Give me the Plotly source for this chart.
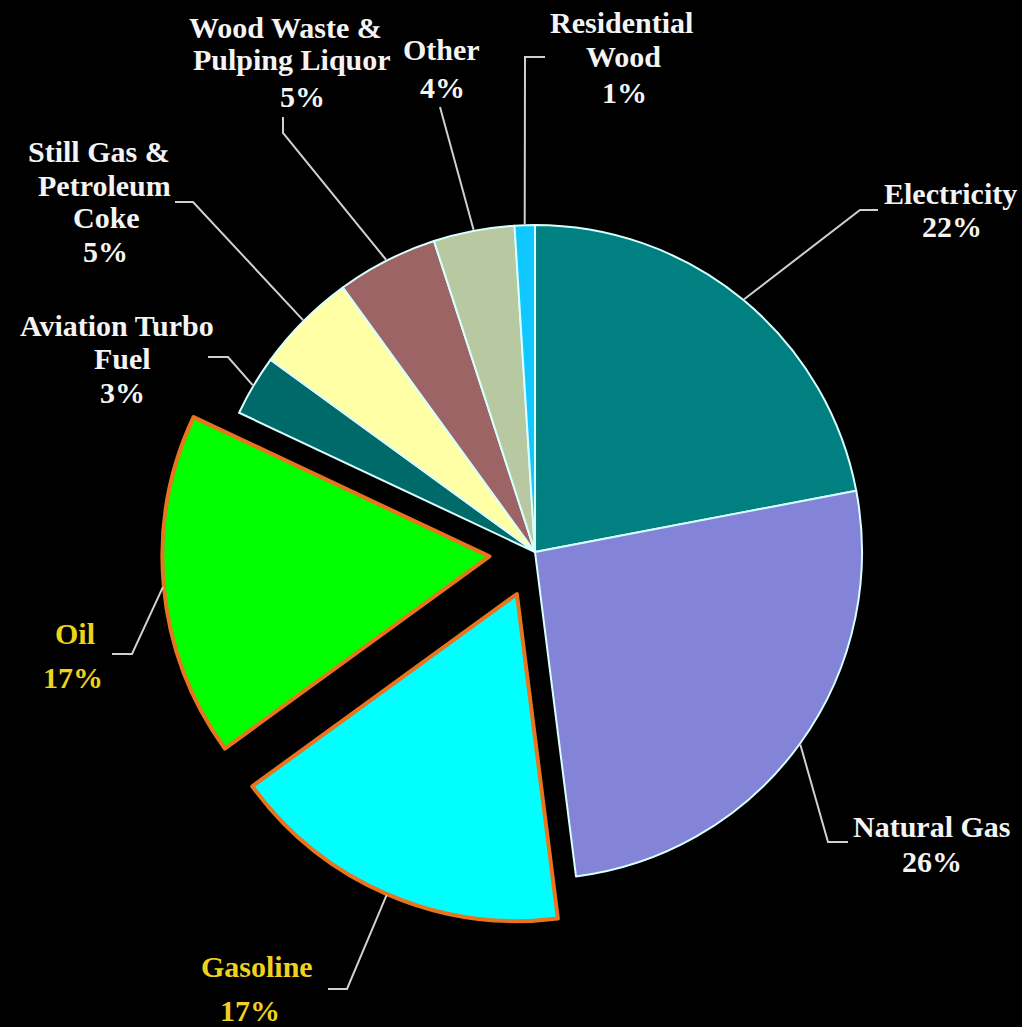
import math
import plotly.graph_objects as go

# ---- data -------------------------------------------------------------
sources = [
    "Electricity",
    "Natural Gas",
    "Gasoline",
    "Oil",
    "Aviation Turbo Fuel",
    "Still Gas & Petroleum Coke",
    "Wood Waste & Pulping Liquor",
    "Other",
    "Residential Wood",
]
shares = [22, 26, 17, 17, 3, 5, 5, 4, 1]
highlighted = ["Gasoline", "Oil"]

# multi-line label text (percent line is appended from shares)
label_text = {
    "Electricity": ["Electricity"],
    "Natural Gas": ["Natural Gas"],
    "Gasoline": ["Gasoline"],
    "Oil": ["Oil"],
    "Aviation Turbo Fuel": ["Aviation Turbo", "Fuel"],
    "Still Gas & Petroleum Coke": ["Still Gas &", "Petroleum", "Coke"],
    "Wood Waste & Pulping Liquor": ["Wood Waste &", "Pulping Liquor"],
    "Other": ["Other"],
    "Residential Wood": ["Residential", "Wood"],
}

# ---- style ------------------------------------------------------------
W, H = 1022, 1027
slice_colors = {
    "Electricity": "#008080",
    "Natural Gas": "#8383D8",
    "Gasoline": "#00FFFF",
    "Oil": "#00FF00",
    "Aviation Turbo Fuel": "#006A6A",
    "Still Gas & Petroleum Coke": "#FFFFA6",
    "Wood Waste & Pulping Liquor": "#9C6464",
    "Other": "#B8C8A0",
    "Residential Wood": "#10C8FF",
}
EDGE = "#D8FFFF"
HILITE_EDGE = "#E8741E"
TEXT_WHITE = "#F4F4F4"
TEXT_YELLOW = "#EED21E"
LEADER = "#D0D0D0"
FONT = "Times New Roman, Liberation Serif, Times, serif"
FONT_SIZE = 30

PULL = 0.14
DOM_X = [0.1587, 0.8883]
DOM_Y = [0.0995, 0.8255]

# label placement in pixels (x centre, y centre of each text line),
# plus the elbow and end of each leader line
label_layout = {
    "Electricity": dict(lines=[(950, 193), (952, 227)], elbow=(860, 210), end=(878, 210)),
    "Natural Gas": dict(lines=[(932, 826), (932, 861)], elbow=(828, 842), end=(848, 842)),
    "Gasoline": dict(lines=[(257, 966), (250, 1010)], elbow=(347, 989), end=(328, 989)),
    "Oil": dict(lines=[(75, 633), (73, 677)], elbow=(132, 654), end=(112, 654)),
    "Aviation Turbo Fuel": dict(lines=[(117, 325), (122, 359), (122, 392)], elbow=(228, 357), end=(208, 357)),
    "Still Gas & Petroleum Coke": dict(lines=[(99, 152), (104, 185), (106, 218), (105, 251)], elbow=(193, 202), end=(175, 202)),
    "Wood Waste & Pulping Liquor": dict(lines=[(285, 27), (292, 60), (302, 97)], elbow=(283, 133), end=(283, 117)),
    "Other": dict(lines=[(441, 50), (442, 88)], elbow=(440, 107), end=(440, 107)),
    "Residential Wood": dict(lines=[(621, 23), (623, 57), (624, 92)], elbow=(525, 57), end=(545, 57)),
}


def px(x, y):
    """pixel (top-left origin) -> paper coordinates"""
    return x / W, 1 - y / H


pulls = [PULL if s in highlighted else 0 for s in sources]
line_colors = [HILITE_EDGE if s in highlighted else EDGE for s in sources]
line_widths = [4 if s in highlighted else 2 for s in sources]

fig = go.Figure(
    go.Pie(
        labels=sources,
        values=shares,
        sort=False,
        direction="clockwise",
        rotation=0,
        pull=pulls,
        marker=dict(
            colors=[slice_colors[s] for s in sources],
            line=dict(color=line_colors, width=line_widths),
        ),
        textinfo="none",
        hoverinfo="label+percent",
        domain=dict(x=DOM_X, y=DOM_Y),
        showlegend=False,
    )
)

# pie geometry, same rule plotly uses to size the pie inside its domain
box_w = W * (DOM_X[1] - DOM_X[0])
box_h = H * (DOM_Y[1] - DOM_Y[0])
radius = min(box_w, box_h) / (2 + 2 * max(pulls))
cx = W * (DOM_X[0] + DOM_X[1]) / 2
cy = H * (1 - (DOM_Y[0] + DOM_Y[1]) / 2)

total = sum(shares)
cum = 0
shapes = []
annotations = []
for src, val, pl in zip(sources, shares, pulls):
    mid = 2 * math.pi * (cum + val / 2) / total
    cum += val
    r_edge = radius * (1 + pl) + 1
    sx = cx + r_edge * math.sin(mid)
    sy = cy - r_edge * math.cos(mid)

    lay = label_layout[src]
    p0 = px(sx, sy)
    p1 = px(*lay["elbow"])
    p2 = px(*lay["end"])
    shapes.append(
        dict(
            type="path",
            xref="paper",
            yref="paper",
            path=f"M {p0[0]},{p0[1]} L {p1[0]},{p1[1]} L {p2[0]},{p2[1]}",
            line=dict(color=LEADER, width=2),
        )
    )

    color = TEXT_YELLOW if src in highlighted else TEXT_WHITE
    texts = label_text[src] + [f"{val}%"]
    for (lx, ly), t in zip(lay["lines"], texts):
        ax_, ay_ = px(lx, ly)
        annotations.append(
            dict(
                x=ax_,
                y=ay_,
                xref="paper",
                yref="paper",
                text=f"<b>{t}</b>",
                showarrow=False,
                xanchor="center",
                yanchor="middle",
                font=dict(family=FONT, size=FONT_SIZE, color=color),
            )
        )

fig.update_layout(
    width=W,
    height=H,
    margin=dict(l=0, r=0, t=0, b=0),
    paper_bgcolor="#000000",
    plot_bgcolor="#000000",
    shapes=shapes,
    annotations=annotations,
)

fig.write_html("out.html")
